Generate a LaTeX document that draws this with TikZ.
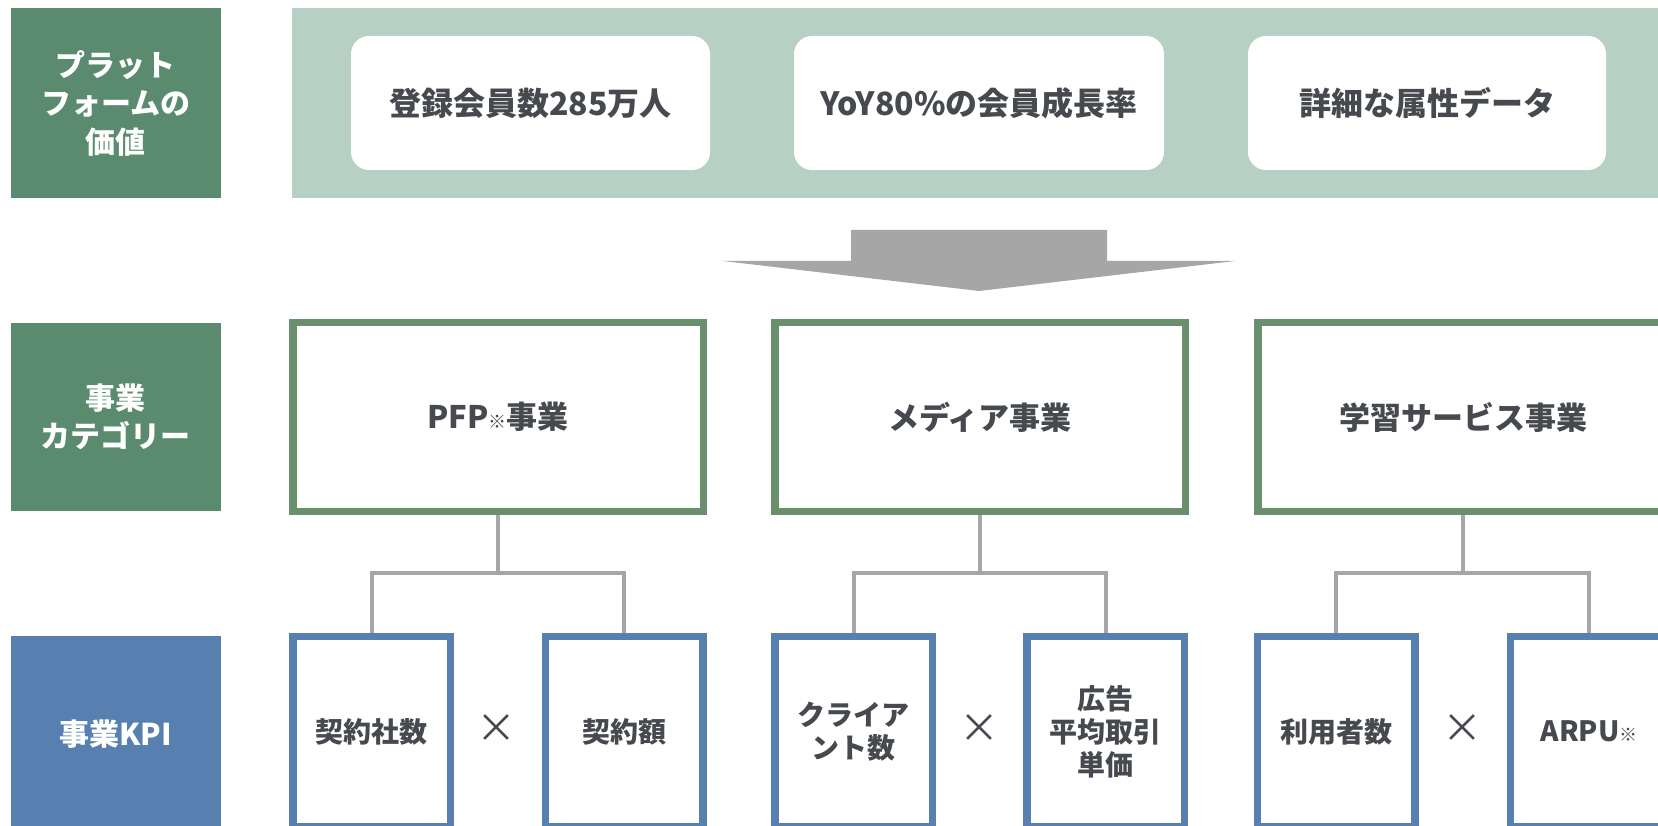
\documentclass[tikz,border=0pt]{standalone}
\usepackage{fontspec}
\setmainfont{Noto Sans CJK JP}
\usetikzlibrary{backgrounds}
\definecolor{labgreen}{HTML}{5B8B6F}
\definecolor{bandgreen}{HTML}{B6D1C3}
\definecolor{catgreen}{HTML}{6A8F6D}
\definecolor{kpiblue}{HTML}{5780B1}
\definecolor{conngray}{HTML}{A6A6A6}
\definecolor{txt}{HTML}{46494E}
\newcommand{\fs}[1]{\fontsize{#1}{#1}\selectfont}
\tikzset{
  lab/.style={fill=#1, text=white, minimum width=210.4pt, inner sep=0pt, align=center,
    font=\bfseries\fontsize{30}{38.5}\selectfont},
  valbox/.style={fill=white, rounded corners=18pt, minimum height=134pt, inner sep=0pt,
    text=txt, font=\bfseries\fs{32}},
  catbox/.style={draw=catgreen, line width=7.5pt, fill=white, minimum width=410.5pt,
    minimum height=188.5pt, inner sep=0pt, text=txt, font=\bfseries\fs{31}},
  kpibox/.style={draw=kpiblue, line width=7.5pt, fill=white, minimum width=157.5pt,
    minimum height=190.5pt, inner sep=0pt, text=txt, align=center,
    font=\bfseries\fontsize{28}{33}\selectfont},
  conn/.style={draw=conngray, line width=4pt},
  times/.style={text=txt, font=\fs{40}, inner sep=0pt},
}
\begin{document}
\begin{tikzpicture}[x=1pt,y=-1pt]
\useasboundingbox (0,0) rectangle (1658,826);
\begin{scope}
\clip (0,0) rectangle (1658,826);
% row labels
\node[lab=labgreen, minimum height=190pt] (l1) at (115.8,103) {プラット\\フォームの\\価値};
\node[lab=labgreen, minimum height=188pt] (l2) at (115.8,417) {事業\\カテゴリー};
\node[lab=kpiblue, minimum height=196pt] (l3) at (115.8,734) {事業KPI};
% band
\fill[bandgreen] (292,8) rectangle (1670,198);
\node[valbox, minimum width=359pt] (v1) at (530.5,103) {登録会員数285万人};
\node[valbox, minimum width=370pt] (v2) at (979,103) {YoY80\%の会員成長率};
\node[valbox, minimum width=358pt] (v3) at (1427,103) {詳細な属性データ};
% arrow
\fill[conngray] (851,230) -- (1107,230) -- (1107,261) -- (1235,261) -- (979,291)
  -- (723,261) -- (851,261) -- cycle;
% categories
\node[catbox] (c1) at (498,417) {PFP{\fs{18}※}事業};
\node[catbox] (c2) at (980,417) {メディア事業};
\node[catbox] (c3) at (1463,417) {学習サービス事業};
% kpis
\node[kpibox] (k1) at (371.5,731.75) {契約社数};
\node[kpibox] (k2) at (624,731.75) {契約額};
\node[kpibox] (k3) at (853.5,731.75) {クライア\\ント数};
\node[kpibox] (k4) at (1105.5,731.75) {広告\\平均取引\\単価};
\node[kpibox] (k5) at (1336,731.75) {利用者数};
\node[kpibox] (k6) at (1589,731.75) {ARPU{\fs{18}※}};
\node[times] (x1) at (496,729) {×};
\node[times] (x2) at (979,729) {×};
\node[times] (x3) at (1462,729) {×};
% connectors
\begin{scope}[on background layer]
\coordinate (f1) at (c1.south |- 0,573);
\coordinate (f2) at (c2.south |- 0,573);
\coordinate (f3) at (c3.south |- 0,573);
\draw[conn] (c1.south) -- (f1);
\draw[conn] (f1) -| (k1.north);
\draw[conn] (f1) -| (k2.north);
\draw[conn] (c2.south) -- (f2);
\draw[conn] (f2) -| (k3.north);
\draw[conn] (f2) -| (k4.north);
\draw[conn] (c3.south) -- (f3);
\draw[conn] (f3) -| (k5.north);
\draw[conn] (f3) -| (k6.north);
\end{scope}
\end{scope}
\end{tikzpicture}
\end{document}
